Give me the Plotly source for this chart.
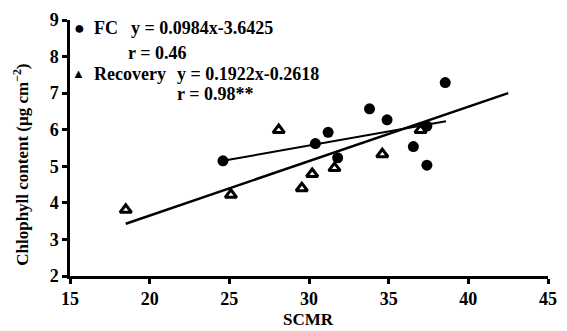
import plotly.graph_objects as go

# FC data (SCMR, chlorophyll)
fc_scmr = [24.6, 38.55, 33.8, 34.9, 31.2, 30.4, 31.8, 36.55, 37.4, 37.4]
fc_chl = [5.15, 7.29, 6.57, 6.27, 5.93, 5.62, 5.23, 5.54, 5.03, 6.10]

# Recovery data
rec_scmr = [18.5, 25.1, 28.1, 29.55, 30.2, 31.6, 34.6, 37.0]
rec_chl = [3.81, 4.22, 5.99, 4.40, 4.79, 4.95, 5.33, 5.99]

# Fitted line end points as drawn
fc_line_x = [24.6, 38.6]
fc_line_y = [5.15, 6.23]
rec_line_x = [18.5, 42.5]
rec_line_y = [3.43, 7.0]

x_ticks = [15, 20, 25, 30, 35, 40, 45]
y_ticks = [2, 3, 4, 5, 6, 7, 8, 9]

FONT = '"Liberation Serif", "Times New Roman", Times, serif'

fig = go.Figure()
fig.add_trace(go.Scatter(x=fc_line_x, y=fc_line_y, mode="lines",
                         line=dict(color="black", width=2), showlegend=False))
fig.add_trace(go.Scatter(x=rec_line_x, y=rec_line_y, mode="lines",
                         line=dict(color="black", width=2.5), showlegend=False))
fig.add_trace(go.Scatter(x=fc_scmr, y=fc_chl, mode="markers",
                         marker=dict(symbol="circle", size=11, color="black"),
                         showlegend=False))
fig.add_trace(go.Scatter(x=rec_scmr, y=rec_chl, mode="markers",
                         marker=dict(symbol="triangle-up-open", size=10,
                                     color="black", line=dict(width=3, color="black")),
                         showlegend=False))

L, R, T, B = 70, 10.3, 18, 55
W, H = 567, 331
pw, ph = W - L - R, H - T - B


def px(x, y):
    return (x - L) / pw, (H - B - y) / ph


def note(text, x, y, anchor="left", size=18, angle=0):
    ax, ay = px(x, y)
    fig.add_annotation(text=text, x=ax, y=ay, xref="paper", yref="paper",
                       xanchor=anchor, yanchor="middle", showarrow=False,
                       textangle=angle, borderpad=0,
                       font=dict(family=FONT, size=size, color="black", weight="bold"))


note("●", 80, 26.5, "center", 18)
note("FC", 93, 26.5)
note("y = 0.0984x-3.6425", 131, 26.5)
note("r = 0.46", 128, 51.5)
note("▲", 79, 72, "center", 13)
note("Recovery", 93, 72.5)
note("y = 0.1922x-0.2618", 178, 72.5)
note("r = 0.98**", 178, 92.5)
note("SCMR", 313, 320, "center", 17)
note("Chlophyll content (μg cm<sup>−2</sup>)", 20, 164, "center", 17, -90)

tf = dict(family=FONT, size=18, color="black", weight="bold")

fig.update_layout(
    width=W, height=H,
    margin=dict(l=L, r=R, t=T, b=B),
    paper_bgcolor="white", plot_bgcolor="white",
    font=dict(family=FONT, size=18, color="black"),
    xaxis=dict(range=[15, 45], tickvals=x_ticks, showgrid=False, zeroline=False,
               showline=True, linecolor="black", linewidth=2.5,
               ticks="outside", ticklen=5, tickwidth=2.5, tickcolor="black",
               tickfont=tf),
    yaxis=dict(range=[2, 9], tickvals=y_ticks, showgrid=False, zeroline=False,
               showline=True, linecolor="black", linewidth=2.5,
               ticks="outside", ticklen=5, tickwidth=2.5, tickcolor="black",
               tickfont=tf),
)

fig.write_html("out.html", config={"displayModeBar": False},
               post_script="document.body.style.margin='0';document.body.style.padding='0';")
